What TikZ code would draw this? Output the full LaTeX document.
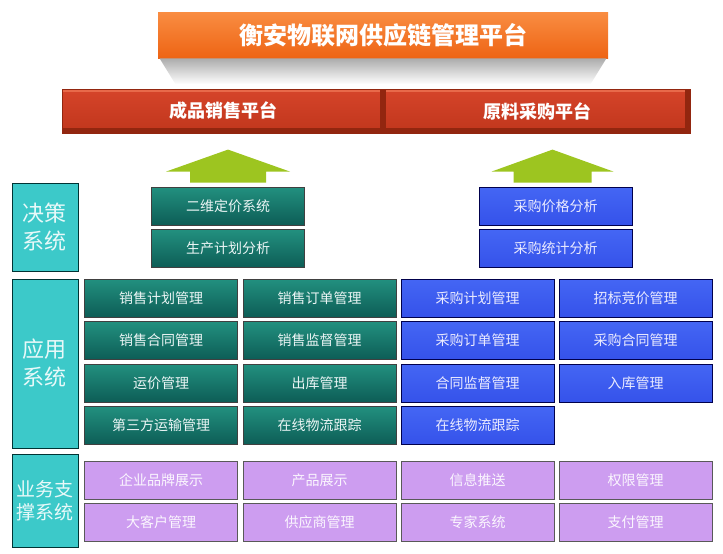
\documentclass[tikz,border=0pt]{standalone}
\usepackage{fontspec}
\setmainfont{Noto Sans CJK SC}
\usepackage{xcolor}

\definecolor{orgtop}{HTML}{F98D42}
\definecolor{orgbot}{HTML}{EE6414}
\definecolor{redtop}{HTML}{D6442A}
\definecolor{redbot}{HTML}{C0361C}
\definecolor{reddark}{HTML}{92260F}
\definecolor{redlight}{HTML}{E8694A}
\definecolor{tealtop}{HTML}{22907F}
\definecolor{tealbot}{HTML}{0D5D56}
\definecolor{bluetop}{HTML}{4466F4}
\definecolor{bluebot}{HTML}{3552EA}
\definecolor{purplebox}{HTML}{CD9DF0}
\definecolor{cyanbox}{HTML}{3CC9C9}
\definecolor{arrgreen}{HTML}{9DC520}

\begin{document}
\begin{tikzpicture}[x=1pt,y=-1pt,
    base/.style={rectangle,inner sep=0pt,line width=0.8pt},
    gbox/.style={base,minimum width=153pt,minimum height=38pt,top color=tealtop,bottom color=tealbot,
       draw=black!75,text=white!92!teal,font=\fontsize{14}{16}\selectfont},
    bbox/.style={base,minimum width=153pt,minimum height=38pt,top color=bluetop,bottom color=bluebot,
       draw=black!70!blue,text=white!92!blue,font=\fontsize{14}{16}\selectfont},
    pbox/.style={base,minimum width=153pt,minimum height=38pt,fill=purplebox,
       draw=black!65,text=white!92!purplebox,font=\fontsize{14}{16}\selectfont},
    lbox/.style={base,minimum width=66pt,fill=cyanbox,draw=black!60!teal,text=white!88!cyanbox,
       align=center,font=\fontsize{22}{28}\selectfont},
    rbar/.style={base,minimum height=44pt,top color=redtop,bottom color=redbot,draw=reddark,
       text=white,font=\bfseries\fontsize{18}{20}\selectfont,
       path picture={
         \fill[redlight] (path picture bounding box.north west) rectangle ([yshift=-3pt]path picture bounding box.north east);
         \fill[reddark] (path picture bounding box.south west) rectangle ([yshift=5pt]path picture bounding box.south east);
         \fill[reddark] ([xshift=-5pt]path picture bounding box.south east) rectangle (path picture bounding box.north east);}},
    arr/.style={fill=arrgreen}]
    \useasboundingbox (0,0) rectangle (723,554);

    % top platform
    \node[base,minimum width=450pt,minimum height=46pt,top color=orgtop,bottom color=orgbot,
       text=white,font=\bfseries\fontsize{24}{28}\selectfont] (title) at (383,35) {衡安物联网供应链管理平台};
    \shade[top color=gray!65,bottom color=white] ([xshift=2pt]title.south west) -- ([xshift=-2pt]title.south east)
       -- ([xshift=-18pt,yshift=-26pt]title.south east) -- ([xshift=18pt,yshift=-26pt]title.south west) -- cycle;

    \node[rbar,minimum width=323pt] (sale) at (223.5,111) {成品销售平台};
    \node[rbar,minimum width=305pt] (buy) at (537.5,111) {原料采购平台};

    % left labels
    \node[lbox,minimum height=88pt] (jc) at (45,227) {决策\\系统};
    \node[lbox,minimum height=169pt] (yy) at (45,363.5) {应用\\系统};
    \node[lbox,minimum height=93pt,font=\fontsize{19}{23}\selectfont] (zc) at (45,501) {业务支\\撑系统};

    % decision
    \node[gbox] (d1) at (228,206) {二维定价系统};
    \node[gbox] (d2) at (228,248.5) {生产计划分析};
    \node[bbox] (d3) at (555.5,206) {采购价格分析};
    \node[bbox] (d4) at (555.5,248.5) {采购统计分析};

    \fill[arr] ([xshift=-38pt,yshift=4pt]d1.north) -- ([xshift=-38pt,yshift=15pt]d1.north)
       -- ([xshift=-62pt,yshift=15pt]d1.north) -- ([yshift=37pt]d1.north)
       -- ([xshift=62pt,yshift=15pt]d1.north) -- ([xshift=38pt,yshift=15pt]d1.north)
       -- ([xshift=38pt,yshift=4pt]d1.north) -- cycle;
    \fill[arr] ([xshift=-42pt,yshift=4pt]d3.north) -- ([xshift=-42pt,yshift=15pt]d3.north)
       -- ([xshift=-64pt,yshift=15pt]d3.north) -- ([xshift=-3pt,yshift=37pt]d3.north)
       -- ([xshift=58pt,yshift=15pt]d3.north) -- ([xshift=36pt,yshift=15pt]d3.north)
       -- ([xshift=36pt,yshift=4pt]d3.north) -- cycle;

    % applications
    \node[gbox] (a11) at (161,298) {销售计划管理};
    \node[gbox] (a12) at (319.5,298) {销售订单管理};
    \node[bbox] (a13) at (477.5,298) {采购计划管理};
    \node[bbox] (a14) at (635.5,298) {招标竞价管理};
    \node[gbox] (a21) at (161,340.5) {销售合同管理};
    \node[gbox] (a22) at (319.5,340.5) {销售监督管理};
    \node[bbox] (a23) at (477.5,340.5) {采购订单管理};
    \node[bbox] (a24) at (635.5,340.5) {采购合同管理};
    \node[gbox] (a31) at (161,383) {运价管理};
    \node[gbox] (a32) at (319.5,383) {出库管理};
    \node[bbox] (a33) at (477.5,383) {合同监督管理};
    \node[bbox] (a34) at (635.5,383) {入库管理};
    \node[gbox] (a41) at (161,425.5) {第三方运输管理};
    \node[gbox] (a42) at (319.5,425.5) {在线物流跟踪};
    \node[bbox] (a43) at (477.5,425.5) {在线物流跟踪};

    % support
    \node[pbox] (s11) at (161,480) {企业品牌展示};
    \node[pbox] (s12) at (319.5,480) {产品展示};
    \node[pbox] (s13) at (477.5,480) {信息推送};
    \node[pbox] (s14) at (635.5,480) {权限管理};
    \node[pbox] (s21) at (161,522) {大客户管理};
    \node[pbox] (s22) at (319.5,522) {供应商管理};
    \node[pbox] (s23) at (477.5,522) {专家系统};
    \node[pbox] (s24) at (635.5,522) {支付管理};
\end{tikzpicture}
\end{document}
